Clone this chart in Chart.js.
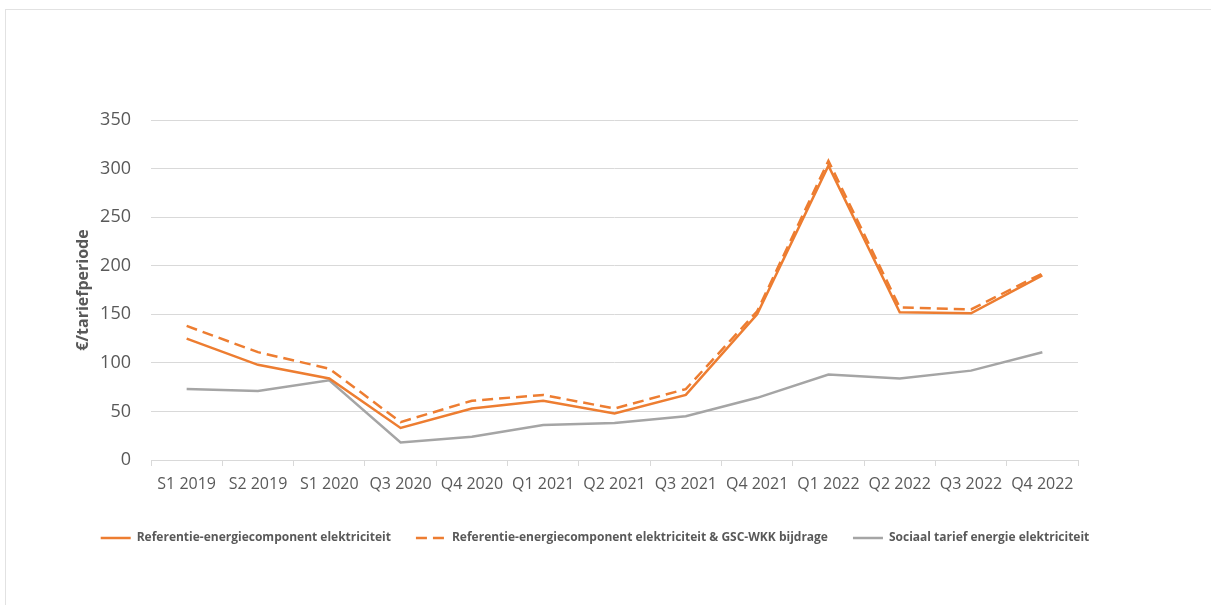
<!DOCTYPE html>
<html>
<head>
<meta charset="utf-8">
<script src="https://cdn.jsdelivr.net/npm/chart.js@4.4.1/dist/chart.umd.min.js"></script>
<style>
  html, body { margin: 0; padding: 0; background: #ffffff; overflow: hidden; }
  #frame { position: absolute; left: 5px; top: 9px; width: 1300px; height: 700px; border: 1px solid #e2e2e2; }
  #wrap { position: absolute; left: 0; top: 0; width: 1190px; height: 605px; }
</style>
</head>
<body>
<div id="frame"></div>
<div id="wrap"><canvas id="c" width="1190" height="605"></canvas></div>
<script>
const categories = ['S1 2019','S2 2019','S1 2020','Q3 2020','Q4 2020','Q1 2021','Q2 2021','Q3 2021','Q4 2021','Q1 2022','Q2 2022','Q3 2022','Q4 2022'];
const referentie = [125, 98, 84, 33, 53, 61, 48, 67, 150, 303, 152, 151, 190];
const referentieGsc = [138, 111, 94, 39, 61, 67, 53, 73, 153, 308, 157, 155, 192];
const sociaal = [73, 71, 82, 18, 24, 36, 38, 45, 64, 88, 84, 92, 111];
const seriesNames = ['Referentie-energiecomponent elektriciteit', 'Referentie-energiecomponent elektriciteit & GSC-WKK bijdrage', 'Sociaal tarief energie elektriciteit'];
const yTicks = [0, 50, 100, 150, 200, 250, 300, 350];
const yTitle = '€/tariefperiode';

const ORANGE = '#ED7D31';
const GRAY = '#A5A5A5';
const TEXT = '#595959';
const GRID = '#d9d9d9';

new Chart(document.getElementById('c'), {
  type: 'line',
  data: {
    labels: categories,
    datasets: [
      { label: seriesNames[0], data: referentie, borderColor: ORANGE, backgroundColor: ORANGE, borderWidth: 2.5, pointRadius: 0, tension: 0, yAxisID: 'y' },
      { label: seriesNames[1], data: referentieGsc, borderColor: ORANGE, backgroundColor: ORANGE, borderWidth: 2.5, borderDash: [11, 6], pointRadius: 0, tension: 0, yAxisID: 'y' },
      { label: seriesNames[2], data: sociaal, borderColor: GRAY, backgroundColor: GRAY, borderWidth: 2.5, pointRadius: 0, tension: 0, yAxisID: 'y' }
    ]
  },
  options: {
    responsive: false,
    animation: false,
    events: [],
    layout: { padding: { top: 120, left: 0, right: 0, bottom: 51 } },
    scales: {
      x: {
        offset: true,
        grid: { display: true, offset: true, drawOnChartArea: false, drawTicks: true, tickLength: 6, color: GRID, lineWidth: 1 },
        border: { display: true, color: GRID, width: 1 },
        ticks: { color: TEXT, font: { family: 'Open Sans', size: 16 }, padding: 9, maxRotation: 0, autoSkip: false },
        afterFit: (s) => { s.height = 47; }
      },
      y: {
        position: 'left',
        min: 0, max: 350,
        afterBuildTicks: (s) => { s.ticks = yTicks.map(v => ({ value: v })); },
        grid: { color: GRID, lineWidth: 1, drawTicks: false },
        border: { display: false },
        ticks: { color: TEXT, font: { family: 'Open Sans', size: 18 }, padding: 20 },
        title: { display: true, text: yTitle, color: TEXT, font: { family: 'Open Sans', size: 16, weight: 'bold' }, padding: { top: 74, bottom: 0 } },
        afterFit: (s) => { s.width = 151; }
      },
      yRight: {
        position: 'right',
        display: true,
        grid: { display: false, drawTicks: false },
        border: { display: false },
        ticks: { display: false },
        afterFit: (s) => { s.width = 112; }
      }
    },
    plugins: {
      tooltip: { enabled: false },
      legend: {
        position: 'bottom',
        align: 'center',
        labels: {
          usePointStyle: true,
          pointStyle: 'line',
          pointStyleWidth: 30,
          padding: 25,
          color: TEXT,
          font: { family: 'Open Sans', size: 12, weight: 'bold' },
          generateLabels: (chart) => {
            const items = Chart.defaults.plugins.legend.labels.generateLabels(chart);
            return items.map(it => {
              const ds = chart.data.datasets[it.datasetIndex];
              it.lineDash = ds.borderDash || [];
              it.lineWidth = 2.5;
              it.strokeStyle = ds.borderColor;
              it.pointStyle = 'line';
              return it;
            });
          }
        }
      }
    }
  }
});
</script>
</body>
</html>
